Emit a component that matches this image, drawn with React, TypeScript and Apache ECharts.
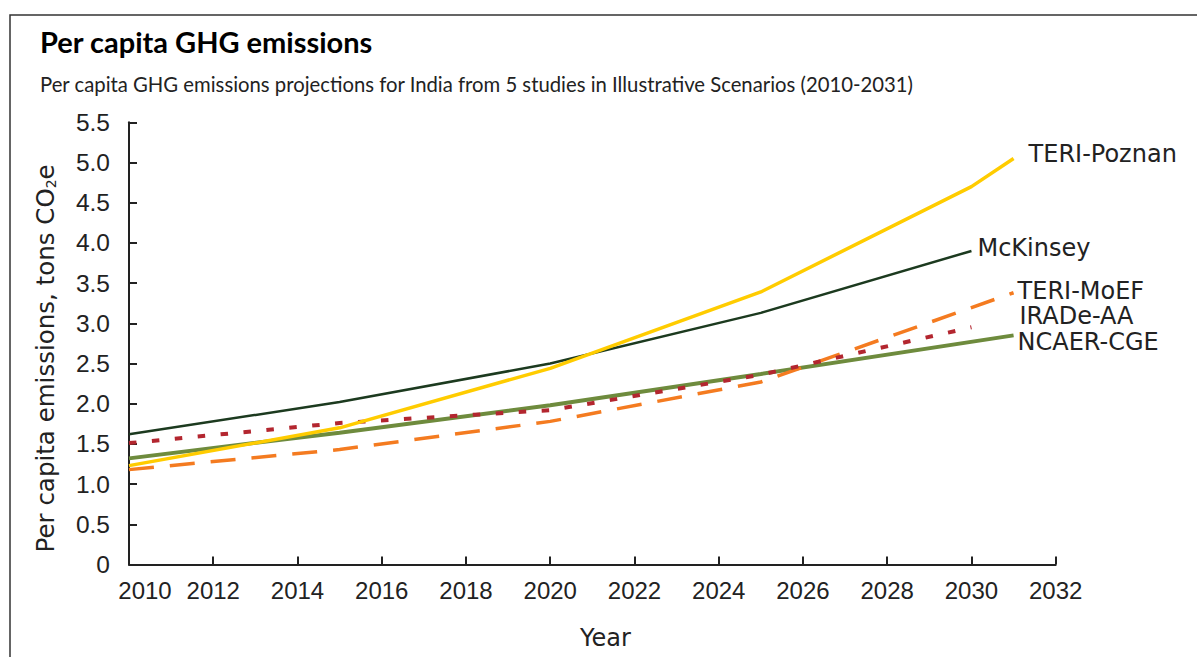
import React, { useEffect, useRef } from "react";
import * as echarts from "echarts";

const xTicks = [2010, 2012, 2014, 2016, 2018, 2020, 2022, 2024, 2026, 2028, 2030, 2032];

const poznanYears = [2010, 2015, 2020, 2025, 2030, 2031];
const poznanValues = [1.23, 1.7, 2.44, 3.39, 4.7, 5.05];

const mckinseyYears = [2010, 2015, 2020, 2025, 2030];
const mckinseyValues = [1.62, 2.02, 2.5, 3.13, 3.9];

const moefYears = [2010, 2015, 2020, 2025, 2031];
const moefValues = [1.18, 1.43, 1.78, 2.27, 3.38];

const iradeYears = [2010, 2015, 2020, 2025, 2030];
const iradeValues = [1.51, 1.76, 1.92, 2.36, 2.95];

const ncaerYears = [2010, 2015, 2020, 2025, 2031];
const ncaerValues = [1.32, 1.64, 1.98, 2.37, 2.85];

const zip = (xs: number[], ys: number[]) => xs.map((x, i) => [x, ys[i]]);

const LABEL_FONT = "DejaVu Sans";
const TICK_FONT = "Liberation Sans";

export default function App() {
  const ref = useRef<HTMLDivElement>(null);
  useEffect(() => {
    if (!ref.current) return;
    const chart = echarts.init(ref.current, undefined, { renderer: "svg" });
    const endLabel = (offset: number[]) => ({
      show: true,
      formatter: "{a}",
      distance: 0,
      offset,
      color: "#222",
      fontFamily: LABEL_FONT,
      fontSize: 24,
    });
    chart.setOption({
      animation: false,
      backgroundColor: "#fff",
      title: [
        {
          text: "Per capita GHG emissions",
          left: 40,
          top: 27,
          padding: 0,
          textStyle: { fontFamily: "Lato", fontWeight: "bold", fontSize: 29, color: "#000" },
        },
        {
          text: "Per capita GHG emissions projections for India from 5 studies in Illustrative Scenarios (2010-2031)",
          left: 40,
          top: 74,
          padding: 0,
          textStyle: { fontFamily: "Lato", fontWeight: "normal", fontSize: 20.3, color: "#222" },
        },
      ],
      graphic: [
        {
          type: "rect",
          shape: { x: 10, y: 15, width: 1250, height: 700 },
          style: { fill: "none", stroke: "#333", lineWidth: 1.5 },
          silent: true,
        },
      ],
      grid: { left: 129, right: 141.3, top: 122.3, bottom: 92.5, containLabel: false },
      xAxis: {
        type: "value",
        min: 2010,
        max: 2032,
        interval: 2,
        name: "Year",
        nameLocation: "middle",
        nameGap: 61,
        nameTextStyle: {
          fontFamily: LABEL_FONT,
          fontSize: 24,
          color: "#222",
          padding: [0, 0, 0, 26],
        },
        axisLine: { show: true, onZero: false, lineStyle: { color: "#222", width: 2 } },
        axisTick: { show: true, inside: true, length: 8, lineStyle: { color: "#222", width: 2 } },
        splitLine: { show: false },
        axisLabel: {
          margin: 14,
          color: "#222",
          fontFamily: TICK_FONT,
          fontSize: 24,
          formatter: (v: number) => (v === xTicks[0] ? `{first|${v}}` : `${v}`),
          rich: {
            first: { padding: [0, 0, 0, 32], fontFamily: TICK_FONT, fontSize: 24, color: "#222" },
          },
        },
      },
      yAxis: {
        type: "value",
        min: 0,
        max: 5.5,
        interval: 0.5,
        name: "Per capita emissions, tons CO{sub|2}e",
        nameLocation: "middle",
        nameGap: 71,
        nameRotate: 90,
        nameTextStyle: {
          fontFamily: LABEL_FONT,
          fontSize: 24.5,
          color: "#222",
          padding: [0, 30, 0, 0],
          rich: {
            sub: { fontFamily: LABEL_FONT, fontSize: 14, color: "#222", verticalAlign: "bottom", padding: [10, 0, 0, 0] },
          },
        },
        axisLine: { show: true, lineStyle: { color: "#222", width: 2 } },
        axisTick: { show: true, inside: true, length: 8, lineStyle: { color: "#222", width: 2 } },
        splitLine: { show: false },
        axisLabel: {
          margin: 19,
          color: "#222",
          fontFamily: TICK_FONT,
          fontSize: 24.5,
          formatter: (v: number) => (v === 0 ? "0" : v.toFixed(1)),
        },
      },
      series: [
        {
          name: "NCAER-CGE",
          type: "line",
          data: zip(ncaerYears, ncaerValues),
          showSymbol: false,
          lineStyle: { color: "#6E8B3D", width: 4 },
          itemStyle: { color: "#6E8B3D" },
          endLabel: endLabel([4, 7]),
          z: 2,
        },
        {
          name: "TERI-MoEF",
          type: "line",
          data: zip(moefYears, moefValues),
          showSymbol: false,
          lineStyle: { color: "#F47B20", width: 3.5, type: [25, 16] },
          itemStyle: { color: "#F47B20" },
          endLabel: endLabel([4, -2]),
          z: 3,
        },
        {
          name: "IRADe-AA",
          type: "line",
          data: zip(iradeYears, iradeValues),
          showSymbol: false,
          lineStyle: { color: "#B3262F", width: 4, type: [7.5, 15.5] },
          itemStyle: { color: "#B3262F" },
          endLabel: endLabel([48, -11]),
          z: 4,
        },
        {
          name: "McKinsey",
          type: "line",
          data: zip(mckinseyYears, mckinseyValues),
          showSymbol: false,
          lineStyle: { color: "#1C3A1F", width: 2.5 },
          itemStyle: { color: "#1C3A1F" },
          endLabel: endLabel([6, -3]),
          z: 5,
        },
        {
          name: "TERI-Poznan",
          type: "line",
          data: zip(poznanYears, poznanValues),
          showSymbol: false,
          lineStyle: { color: "#FFCC00", width: 3.5 },
          itemStyle: { color: "#FFCC00" },
          endLabel: endLabel([15, -4]),
          z: 6,
        },
      ],
    });
    return () => chart.dispose();
  }, []);
  return (
    <div
      ref={ref}
      style={{ position: "fixed", left: 0, top: 0, width: 1197, height: 657, background: "#fff" }}
    />
  );
}
